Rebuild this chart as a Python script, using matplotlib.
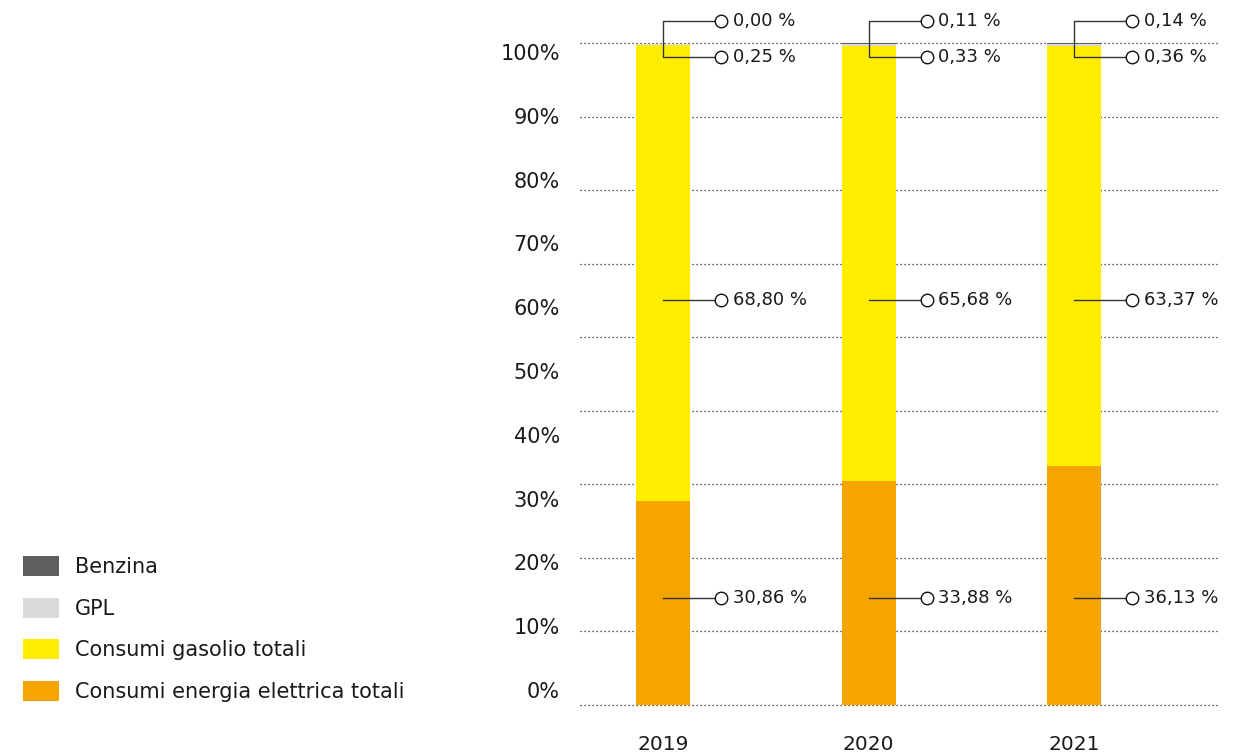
import matplotlib
matplotlib.use("Agg")
import matplotlib.pyplot as plt
from matplotlib.patches import Patch

years = ["2019", "2020", "2021"]
elettrica = [30.86, 33.88, 36.13]
gasolio = [68.80, 65.68, 63.37]
gpl = [0.25, 0.33, 0.36]
benzina = [0.00, 0.11, 0.14]
series_names = ["Consumi energia elettrica totali", "Consumi gasolio totali", "GPL", "Benzina"]
series_colors = ["#F6A500", "#FFED00", "#D9D9D9", "#5F5D5E"]
ytick_labels = [f"{v}%" for v in range(0, 101, 10)]
n_gridlines = 10

def fmt(v):
    return f"{v:.2f}".replace(".", ",") + " %"

W, H = 1258, 756
fig = plt.figure(figsize=(W / 100, H / 100), dpi=100)
plt.rcParams["font.family"] = ["DejaVu Sans"]

ax = fig.add_axes([580 / W, (H - 705) / H, 640 / W, 662 / H])
ax.set_ylim(0, 100)
ax.set_xlim(-0.404, 2.71)

x = list(range(len(years)))
width = 0.263
bottom = [0.0] * len(years)
for vals, name, col in zip([elettrica, gasolio, gpl, benzina], series_names, series_colors):
    ax.bar(x, vals, width, bottom=bottom, color=col, label=name, zorder=2, linewidth=0)
    bottom = [b + v for b, v in zip(bottom, vals)]

# gridlines (evenly spaced, as in the reference)
for k in range(n_gridlines):
    v = k * 100 / (n_gridlines - 1)
    ax.axhline(v, color="#222222", linestyle=(0, (1, 2.2)), linewidth=0.9, zorder=1, clip_on=False)

for s in ax.spines.values():
    s.set_visible(False)
ax.set_yticks([])
ax.set_xticks(x)
ax.set_xticklabels(years, fontsize=14.5, color="#1a1a1a")
ax.tick_params(axis="x", length=0, pad=21.5)

# y tick labels (offset scale as in the reference)
ax2 = fig.add_axes(ax.get_position(), frameon=False)
ax2.set_ylim(-2.351, 101.41)
ax2.set_xticks([])
ax2.set_yticks(range(0, 101, 10))
ax2.set_yticklabels(ytick_labels, fontsize=15, color="#1a1a1a")
ax2.tick_params(axis="y", length=0, pad=14.5)
ax2.patch.set_visible(False)
ax2.set_zorder(-1)

# annotations
lc = "#333333"
dx_circ = 0.282
dx_text = 0.34
fs_ann = 13
label_y = {"elettrica": 16.2, "gasolio": 61.2, "gpl": 97.9, "benzina": 103.3}
for i in x:
    for key, vals in (("elettrica", elettrica), ("gasolio", gasolio)):
        yy = label_y[key]
        ax.plot([i, i + dx_circ - 0.025], [yy, yy], color=lc, lw=1, zorder=3, clip_on=False)
        ax.plot([i + dx_circ], [yy], marker="o", ms=9, mfc="white", mec="#111111", mew=1, zorder=4, clip_on=False)
        ax.text(i + dx_text, yy, fmt(vals[i]), fontsize=fs_ann, va="center", ha="left", color="#1a1a1a")
    yb, yg = label_y["benzina"], label_y["gpl"]
    ax.plot([i + dx_circ - 0.025, i, i, i + dx_circ - 0.025], [yb, yb, yg, yg], color=lc, lw=1, zorder=3, clip_on=False)
    for key, vals in (("gpl", gpl), ("benzina", benzina)):
        yy = label_y[key]
        ax.plot([i + dx_circ], [yy], marker="o", ms=9, mfc="white", mec="#111111", mew=1, zorder=4, clip_on=False)
        ax.text(i + dx_text, yy, fmt(vals[i]), fontsize=fs_ann, va="center", ha="left", color="#1a1a1a", clip_on=False)

# legend
handles = [Patch(facecolor=c, edgecolor="none") for c in reversed(series_colors)]
labels = list(reversed(series_names))
fig.legend(handles, labels, loc="upper left", bbox_to_anchor=(23 / W, (H - 556) / H),
           frameon=False, fontsize=15, handlelength=1.73, handleheight=1.1,
           handletextpad=0.77, labelspacing=0.98, borderpad=0, borderaxespad=0,
           labelcolor="#1a1a1a")

fig.savefig("out.png", dpi=100)
